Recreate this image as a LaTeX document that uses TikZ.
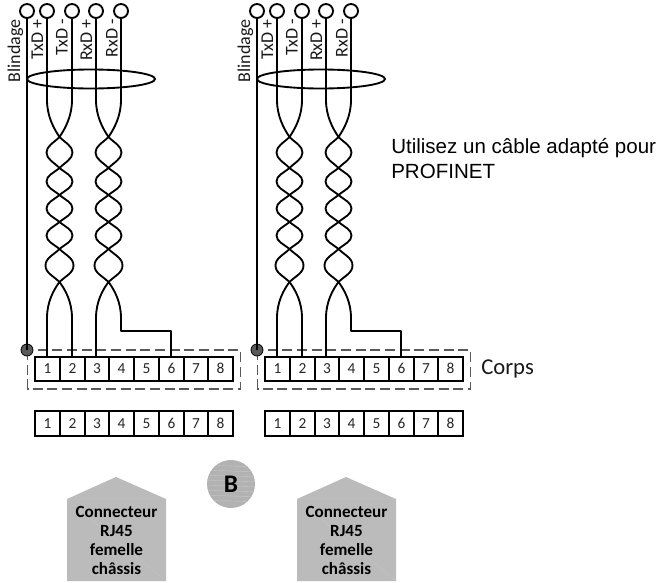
\documentclass[tikz,border=0pt]{standalone}
\usepackage{fontspec}
\setmainfont{Carlito}
\newfontfamily\arialfont{Liberation Sans}
\definecolor{housegray}{HTML}{BBBBBB}
\definecolor{ballgray}{HTML}{B2B2B2}
\definecolor{ballwave}{HTML}{C0C0C0}
\definecolor{seamgray}{HTML}{C4C4C4}
\tikzset{
  wire/.style={line width=1.4pt,black,line join=round},
  term/.style={circle,draw=black,line width=1.4pt,fill=white,minimum size=10.5pt,inner sep=0pt},
  cell/.style={draw=black,line width=1.4pt,minimum width=18.5pt,minimum height=18.2pt,inner sep=0pt,text height=7.4pt,text depth=0pt,font=\fontsize{11.5}{12}\selectfont,text=black!85},
  wlabel/.style={rotate=90,anchor=base east,inner sep=0pt,font=\fontsize{13.5}{15}\selectfont,text=black!90},
  shieldring/.style={draw=black,line width=1.4pt},
  body/.style={draw=black!65,line width=.8pt,dash pattern=on 7.5pt off 3.5pt},
  joint/.style={circle,draw=black,line width=.6pt,fill=black!65,minimum size=9pt,inner sep=0pt},
  house/.style={fill=housegray,draw=none},
  seam/.style={draw=seamgray,line width=.25pt},
  housetext/.style={align=center,font=\fontsize{12.8}{14.25}\selectfont\bfseries,inner sep=0pt},
  ball/.style={circle,fill=ballgray,draw=none,minimum size=36pt,inner sep=0pt},
  ballmark/.style={inner sep=0pt,font=\fontsize{19}{21}\selectfont\bfseries},
  note/.style={align=left,anchor=base west,inner sep=0pt,font=\arialfont\fontsize{15.4}{18.7}\selectfont,text=black},
}
% one strand of a twisted pair: centre #1, side #2 (-1 left, +1 right), from y=100 to y=318
\newcommand{\twiststrand}[2]{%
  ({#1+#2*12.5},100) .. controls ({#1+#2*12.5},116) and ({#1+#2*6},128) .. (#1,137)
  .. controls ({#1-#2*6},143) and ({#1-#2*13},146) .. ({#1-#2*13},152.5)
  .. controls ({#1-#2*13},159) and ({#1-#2*6},162) .. (#1,168)
  .. controls ({#1+#2*6},173) and ({#1+#2*13},175.5) .. ({#1+#2*13},181.5)
  .. controls ({#1+#2*13},187.5) and ({#1+#2*6},190) .. (#1,195)
  .. controls ({#1-#2*6},200) and ({#1-#2*13},202.5) .. ({#1-#2*13},208.5)
  .. controls ({#1-#2*13},214.5) and ({#1-#2*6},217) .. (#1,222)
  .. controls ({#1+#2*6},227) and ({#1+#2*13},229.5) .. ({#1+#2*13},235.5)
  .. controls ({#1+#2*13},241.5) and ({#1+#2*6},244) .. (#1,249)
  .. controls ({#1-#2*6},255) and ({#1-#2*14},258) .. ({#1-#2*14},265.5)
  .. controls ({#1-#2*14},273) and ({#1-#2*6},276) .. (#1,282)
  .. controls ({#1+#2*6},290) and ({#1+#2*12.5},302) .. ({#1+#2*12.5},318)}
\begin{document}
\begin{tikzpicture}[x=.75pt,y=-.75pt]
\useasboundingbox (0,0) rectangle (660,582);
\foreach \p/\dx in {L/0,R/230}{
\begin{scope}[shift={(\dx,0)}]
  % body and shield ring
  \draw[body] (27.5,350) rectangle (240.5,389);
  \draw[shieldring] (91,79) ellipse [x radius=64,y radius=9.5];
  % upper and lower pin rows
  \foreach \n/\cx in {1/47.5,2/72.5,3/97,4/121.5,5/146.5,6/171.5,7/196,8/220.5}{
    \node[cell,fill=white] (\p C\n) at (\cx,369) {\n};
    \node[cell] (\p D\n) at (\cx,423.5) {\n};
  }
  % terminals
  \node[term] (\p S) at (27,11) {};
  \node[term] (\p T1) at (47,11) {};
  \node[term] (\p T2) at (72,11) {};
  \node[term] (\p T3) at (96,11) {};
  \node[term] (\p T4) at (121,11) {};
  \coordinate (\p W6) at (171,331);
  % shield
  \node[joint] (\p J) at (27,350) {};
  \draw[wire] (\p S.south) -- (\p J.center);
  % pairs
  \draw[wire] (\p T1.south) -- \twiststrand{59.5}{-1} -- (\p T1 |- \p C1.north);
  \draw[wire] (\p T2.south) -- \twiststrand{59.5}{1} -- (\p T2 |- \p C2.north);
  \draw[wire] (\p T3.south) -- \twiststrand{108.5}{-1} -- (\p T3 |- \p C3.north);
  \draw[wire] (\p T4.south) -- \twiststrand{108.5}{1} -- (121,331) -- (\p W6) -- (\p W6 |- \p C6.north);
  % labels
  \node[wlabel] (\p lb) at (20,19) {Blindage};
  \node[wlabel] (\p la) at (43,19) {TxD +};
  \node[wlabel] (\p lc) at (67.5,19) {TxD -};
  \node[wlabel] (\p ld) at (92,19) {RxD +};
  \node[wlabel] (\p le) at (117.5,19) {RxD -};
  % connector
  \fill[house] (67,499) -- (116,477) -- (166,499) -- (166,581) -- (67,581) -- cycle;
  \draw[seam] (67,499) -- (166,499) (67,499) -- (166,581);
  \node[housetext] (\p H) at (116.5,540.5) {Connecteur\\RJ45\\femelle\\châssis};
\end{scope}
}
\node[ball] (ballB) at (231,484) {};
\begin{scope}
  \clip (231,484) circle [radius=24];
  \foreach \wy in {466,471,476,481,486,491,496,501}
    \draw[ballwave,line width=.5pt] (205,\wy) .. controls (222,{\wy-1.5}) and (238,{\wy+1.5}) .. (257,\wy);
\end{scope}
\node[ballmark] (ballBtext) at (ballB) {B};
\node[inner sep=0pt,anchor=base west,font=\fontsize{17}{18}\selectfont,text=black!90] (corps) at (481,374.5) {Corps};
\node[note] (usage) at (391,178) {Utilisez un câble adapté pour\\PROFINET};
\end{tikzpicture}
\end{document}
